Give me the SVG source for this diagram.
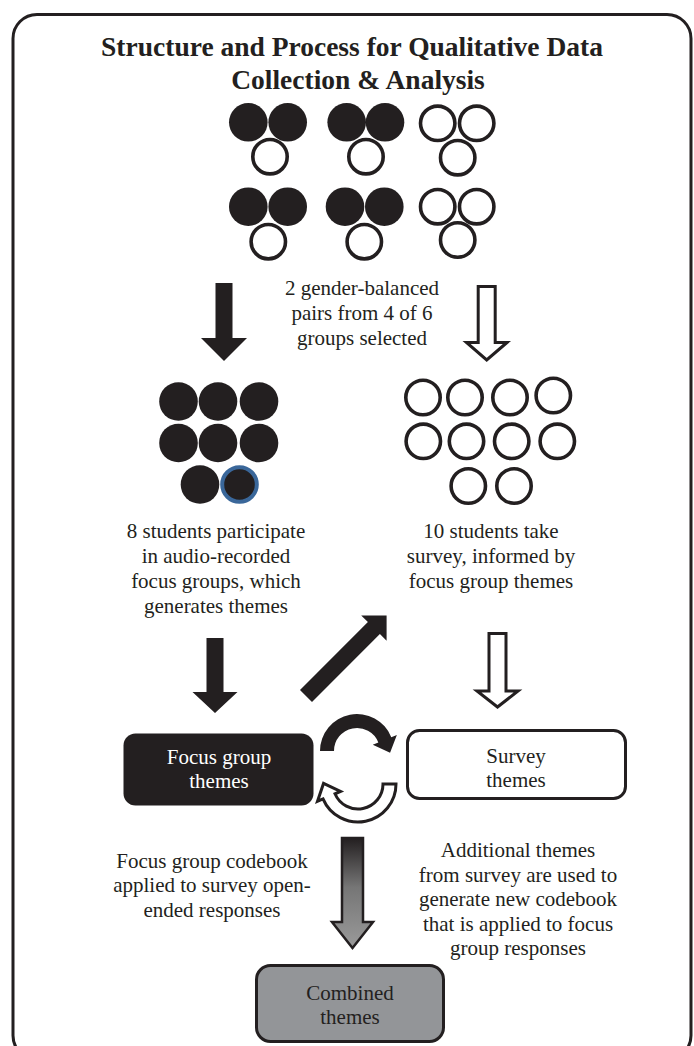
<svg xmlns="http://www.w3.org/2000/svg" width="694" height="1046" viewBox="0 0 694 1046">
<style>
.t{font-family:"Liberation Serif","Times New Roman",serif;font-size:21px;fill:#231f20;text-anchor:middle}
.title{font-weight:bold;font-size:27.5px}
.w{fill:#ffffff}
.f{fill:#231f20}
.o{fill:#ffffff;stroke:#231f20;stroke-width:3.6}
.bl{fill:#231f20;stroke:#3a679a;stroke-width:4}
.ah{fill:#231f20}
.wa{fill:#ffffff;stroke:#231f20;stroke-width:3;stroke-linejoin:miter}
</style>
<defs>
<linearGradient id="gr" x1="0" y1="838" x2="0" y2="948" gradientUnits="userSpaceOnUse">
<stop offset="0" stop-color="#231f20"/>
<stop offset="0.45" stop-color="#767676"/>
<stop offset="1" stop-color="#9a9a9a"/>
</linearGradient>
</defs>
<rect id="frame" x="13" y="14.5" width="678" height="1045" rx="24" fill="none" stroke="#231f20" stroke-width="3"/>
<g id="title">
<text class="t title" x="352" y="56">Structure and Process for Qualitative Data</text>
<text class="t title" x="358" y="89">Collection &amp; Analysis</text>
</g>
<g id="groups-of-six">
<g id="group1"><circle class="f" cx="248.3" cy="122.3" r="19.3"/><circle class="f" cx="287.7" cy="122.3" r="19.3"/><circle class="o" cx="270" cy="156.7" r="17.2"/></g>
<g id="group2"><circle class="f" cx="346.7" cy="122.3" r="19.3"/><circle class="f" cx="385" cy="122.3" r="19.3"/><circle class="o" cx="366" cy="156.7" r="17.2"/></g>
<g id="group3"><circle class="o" cx="437.7" cy="123.3" r="17.2"/><circle class="o" cx="476.7" cy="123.3" r="17.2"/><circle class="o" cx="457.7" cy="157.7" r="17.2"/></g>
<g id="group4"><circle class="f" cx="248.3" cy="206.7" r="19.3"/><circle class="f" cx="287.7" cy="206.7" r="19.3"/><circle class="o" cx="268.3" cy="241.7" r="17.2"/></g>
<g id="group5"><circle class="f" cx="345" cy="206.7" r="19.3"/><circle class="f" cx="384.3" cy="206.7" r="19.3"/><circle class="o" cx="364.3" cy="241.7" r="17.2"/></g>
<g id="group6"><circle class="o" cx="437.7" cy="206.7" r="17.2"/><circle class="o" cx="476.7" cy="206.7" r="17.2"/><circle class="o" cx="457.7" cy="240" r="17.2"/></g>
</g>
<g id="selection-label">
<text class="t" x="362" y="295">2 gender-balanced</text>
<text class="t" x="362" y="320">pairs from 4 of 6</text>
<text class="t" x="362" y="345">groups selected</text>
</g>
<g id="focus-students">
<circle class="f" cx="178.5" cy="401.5" r="19.3"/><circle class="f" cx="218" cy="401.5" r="19.3"/><circle class="f" cx="259" cy="401.5" r="19.3"/>
<circle class="f" cx="178.5" cy="443" r="19.3"/><circle class="f" cx="218" cy="443" r="19.3"/><circle class="f" cx="259" cy="443" r="19.3"/>
<circle class="f" cx="200" cy="484.5" r="19.3"/><circle class="bl" cx="239.5" cy="484.5" r="17.3"/>
<text class="t" x="216" y="538">8 students participate</text>
<text class="t" x="216" y="563">in audio-recorded</text>
<text class="t" x="216" y="588">focus groups, which</text>
<text class="t" x="216" y="613">generates themes</text>
</g>
<g id="survey-students">
<circle class="o" cx="423" cy="397.5" r="17.2"/><circle class="o" cx="465" cy="397.5" r="17.2"/><circle class="o" cx="510" cy="397.5" r="17.2"/><circle class="o" cx="553.3" cy="395.5" r="17.2"/>
<circle class="o" cx="423.3" cy="441.3" r="17.2"/><circle class="o" cx="466.5" cy="441.3" r="17.2"/><circle class="o" cx="511.7" cy="441.3" r="17.2"/><circle class="o" cx="557.3" cy="441.3" r="17.2"/>
<circle class="o" cx="468.3" cy="486" r="17.2"/><circle class="o" cx="514" cy="486" r="17.2"/>
<text class="t" x="491" y="538">10 students take</text>
<text class="t" x="491" y="563">survey, informed by</text>
<text class="t" x="491" y="588">focus group themes</text>
</g>
<g id="connectors">
<polygon class="ah" points="215.5,283 232.5,283 232.5,338 247,338 224,361 201,338 215.5,338"/>
<polygon class="wa" points="478.2,286.5 495.2,286.5 495.2,342.5 507,342.5 486.7,360 466.5,342.5 478.2,342.5"/>
<polygon class="ah" points="206.5,638 223.5,638 223.5,692 237.5,692 215,713 192.5,692 206.5,692"/>
<polygon class="ah" points="300,690 367.9,622.1 361.2,615.4 386.6,615.4 386.6,640.8 379.9,634.1 312,702"/>
<polygon class="wa" points="489,633.5 506,633.5 506,691 518,691 497.5,707 477,691 489,691"/>
<path class="ah" d="M320,751 A37,37 0 0 1 391.3,737.14 L396.87,734.89 L390.06,752.74 L372.76,744.63 L378.33,742.38 A23,23 0 0 0 334,751 Z"/>
<path class="wa" stroke-width="2.6" d="M383,784 L396,784 A38,38 0 0 1 323.02,798.85 L317.5,801.19 L323.53,783.42 L340.51,791.42 L334.99,793.77 A25,25 0 0 0 383,784 Z"/>
<polygon fill="url(#gr)" stroke="#231f20" stroke-width="2.5" points="342,838 363,838 363,922 373,922 352.5,948 332,922 342,922"/>
</g>
<g id="focus-themes">
<rect x="123.5" y="733.5" width="190" height="72" rx="12" class="f"/>
<text class="t w" x="219" y="764">Focus group</text>
<text class="t w" x="219" y="788">themes</text>
</g>
<g id="survey-themes">
<rect x="407.5" y="730.5" width="218" height="68" rx="12" fill="#ffffff" stroke="#231f20" stroke-width="3"/>
<text class="t" x="516" y="763">Survey</text>
<text class="t" x="516" y="787">themes</text>
</g>
<g id="codebook-labels">
<text class="t" x="212" y="868">Focus group codebook</text>
<text class="t" x="212" y="892">applied to survey open-</text>
<text class="t" x="212" y="917">ended responses</text>
<text class="t" x="518" y="857">Additional themes</text>
<text class="t" x="518" y="882">from survey are used to</text>
<text class="t" x="518" y="906">generate new codebook</text>
<text class="t" x="518" y="931">that is applied to focus</text>
<text class="t" x="518" y="955">group responses</text>
</g>
<g id="combined-themes">
<rect x="256.5" y="965.5" width="187" height="76" rx="14" fill="#939598" stroke="#231f20" stroke-width="3"/>
<text class="t" x="350" y="1000">Combined</text>
<text class="t" x="350" y="1024">themes</text>
</g>
</svg>
